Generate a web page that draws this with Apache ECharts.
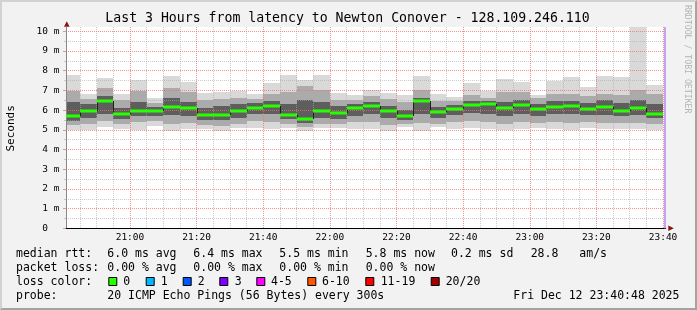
<!DOCTYPE html>
<html><head><meta charset="utf-8">
<script src="https://cdn.jsdelivr.net/npm/echarts@6/dist/echarts.min.js"></script>
<style>
html,body{margin:0;padding:0;background:#f2f2f2;overflow:hidden;}
#chart{position:absolute;left:0;top:0;width:697px;height:310px;}
#frame{position:absolute;left:0;top:0;width:697px;height:310px;box-sizing:border-box;border-top:2px solid #d2d2d2;border-left:2px solid #d2d2d2;border-right:2px solid #a4a4a4;border-bottom:2px solid #a4a4a4;pointer-events:none;}
</style></head>
<body>
<div id="frame"></div>
<div id="chart"></div>
<script>
// ---- data ----
const rangeStart = "20:40:48";
const rangeEnd = "23:40:48";
const nowTime = "23:40:30";
const slotTimes = ["20:40","20:45","20:50","20:55","21:00","21:05","21:10","21:15","21:20","21:25","21:30","21:35",
  "21:40","21:45","21:50","21:55","22:00","22:05","22:10","22:15","22:20","22:25","22:30","22:35",
  "22:40","22:45","22:50","22:55","23:00","23:05","23:10","23:15","23:20","23:25","23:30","23:35"];
const medRtt = [5.69,5.94,6.45,5.78,5.97,5.93,6.18,6.09,5.74,5.77,5.97,6.09,6.19,5.77,5.55,5.97,5.84,6.09,
  6.19,5.94,5.69,6.45,5.89,6.06,6.24,6.30,6.09,6.28,6.04,6.14,6.22,6.04,6.14,5.94,6.09,5.82];
const maxRtt = [7.80,6.84,7.63,6.82,7.55,6.62,7.75,7.45,6.85,6.90,6.95,6.82,7.40,7.80,7.55,7.78,6.87,6.75,
  7.03,6.87,6.75,7.72,6.82,6.67,7.38,6.96,7.60,7.41,6.76,7.46,7.66,7.15,7.71,7.68,10.50,7.29];
const upperMid = [6.95,6.55,7.10,6.50,6.95,6.35,7.10,6.90,6.50,6.55,6.60,6.55,6.80,6.90,7.20,7.00,6.50,6.50,
  6.70,6.55,6.40,7.00,6.45,6.45,6.75,6.60,6.90,6.90,6.60,6.80,6.80,6.70,6.80,6.75,7.00,6.80];
const upperCore = [6.40,6.30,6.70,6.10,6.40,6.15,6.60,6.40,6.10,6.20,6.30,6.35,6.45,6.30,6.50,6.40,6.20,6.30,
  6.40,6.20,6.00,6.60,6.15,6.25,6.45,6.45,6.40,6.50,6.30,6.45,6.45,6.35,6.50,6.35,6.50,6.30];
const lowerCore = [5.45,5.60,5.80,5.55,5.70,5.70,5.75,5.70,5.50,5.50,5.60,5.80,5.80,5.55,5.35,5.60,5.55,5.70,
  5.80,5.60,5.50,5.80,5.60,5.75,5.85,5.80,5.70,5.80,5.70,5.80,5.80,5.75,5.75,5.70,5.75,5.60];
const lowerMid = [5.25,5.30,5.45,5.30,5.40,5.45,5.30,5.35,5.25,5.20,5.30,5.45,5.40,5.30,5.15,5.30,5.30,5.40,
  5.40,5.25,5.30,5.35,5.30,5.40,5.45,5.40,5.30,5.40,5.35,5.40,5.35,5.40,5.35,5.35,5.35,5.30];
const minRtt = [5.00,4.98,5.15,5.05,5.00,5.20,4.95,5.05,5.05,4.95,5.10,5.08,5.05,5.10,4.95,5.08,5.10,5.05,
  5.05,4.95,5.15,4.95,5.15,5.05,5.08,5.02,4.98,5.03,5.08,5.03,5.00,5.08,5.03,5.05,5.03,5.00];
const xMajorLabels = ["21:00","21:20","21:40","22:00","22:20","22:40","23:00","23:20","23:40"];
const yMajorTicks = [0,1,2,3,4,5,6,7,8,9,10];
const yMinorTicks = [0.5,1.5,2.5,3.5,4.5,5.5,6.5,7.5,8.5,9.5];
const yTop = 10.22;
const slotMinutes = 5;

const titleText = "Last 3 Hours from latency to Newton Conover - 128.109.246.110";
const legendRows = [
  {y:254, items:[[16,"median rtt:"],[107.3,"6.0 ms avg"],[193.3,"6.4 ms max"],[279.3,"5.5 ms min"],[365.7,"5.8 ms now"],[451,"0.2 ms sd"],[530.7,"28.8"],[579.3,"am/s"]]},
  {y:268.3, items:[[16,"packet loss:"],[107.3,"0.00 % avg"],[193.3,"0.00 % max"],[279.3,"0.00 % min"],[365.7,"0.00 % now"]]},
  {y:281.7, items:[[16,"loss color:"]]},
  {y:296, items:[[16,"probe:"],[107.3,"20 ICMP Echo Pings (56 Bytes) every 300s"],[513.3,"Fri Dec 12 23:40:48 2025"]]}
];
const lossLabels = ["0","1","2","3","4-5","6-10","11-19","20/20"];
const lossColors = ["#26ff00","#00b8ff","#0059ff","#7e00ff","#ff00ff","#ff5500","#ff0000","#a10000"];
const lossBoxX = [108.3,145.7,182.7,219.3,256.3,307.3,365.3,430.7];
const lossTextX = [123.3,160.7,197.7,234.7,271,322,380.7,445.7];

// ---- build ----
const toMin = s => { const p = s.split(':').map(Number); return (p[0]-20)*60 + p[1] + (p[2]||0)/60; };
const xMin = toMin(rangeStart), xMax = toMin(rangeEnd);
const xMajor = xMajorLabels.map(toMin);
const xMinor = slotTimes.map(toMin).filter(v => v > xMin && xMajor.indexOf(v) < 0);
const fmtTime = v => { const h = 20 + Math.floor(v/60), m = Math.round(v - (h-20)*60); return h + ':' + (m<10?'0':'') + m; };

const rows = slotTimes.map((t,i) => [toMin(t), toMin(t)+slotMinutes, minRtt[i], maxRtt[i], lowerMid[i], upperMid[i],
  lowerCore[i], upperCore[i], medRtt[i], i>0 ? medRtt[i-1] : medRtt[i]]);

const MONO = "DejaVu Sans Mono";
const majorColor = 'rgba(240,110,110,0.75)';
const minorColor = 'rgba(170,170,170,0.6)';

const graphics = [];
graphics.push({type:'text', x:347.5, y:19, style:{text:titleText, font:'13.2px "'+MONO+'"', fill:'#000', align:'center', verticalAlign:'middle'}});
graphics.push({type:'text', x:10.7, y:128.4, rotation:Math.PI/2, style:{text:'Seconds', font:'11px "'+MONO+'"', fill:'#000', align:'center', verticalAlign:'middle'}});
graphics.push({type:'text', x:687.3, y:5, rotation:-Math.PI/2, style:{text:'RRDTOOL / TOBI OETIKER', font:'8.2px "'+MONO+'"', fill:'#b4b4b4', align:'left', verticalAlign:'middle'}});
legendRows.forEach(r => r.items.forEach(it => graphics.push({type:'text', x:it[0], y:r.y, style:{text:it[1], font:'11.5px "'+MONO+'"', fill:'#000', align:'left', verticalAlign:'middle'}})));
lossLabels.forEach((l,i) => {
  graphics.push({type:'rect', shape:{x:lossBoxX[i]+0.5, y:277.5, width:8, height:8}, style:{fill:lossColors[i], stroke:'#000', lineWidth:1}});
  graphics.push({type:'text', x:lossTextX[i], y:281.7, style:{text:l, font:'11.5px "'+MONO+'"', fill:'#000', align:'left', verticalAlign:'middle'}});
});
// axis arrows
graphics.push({type:'polygon', shape:{points:[[66.8,21.3],[64,26.8],[69.6,26.8]]}, style:{fill:'#8b1010'}});
graphics.push({type:'polygon', shape:{points:[[668.3,225.5],[673.8,228.3],[668.3,231.1]]}, style:{fill:'#8b1010'}});

const chart = echarts.init(document.getElementById('chart'), null, {renderer:'canvas'});
chart.setOption({
  animation:false,
  backgroundColor:'transparent',
  grid:{left:66, right:31.3, top:27, bottom:81.7, outerBoundsMode:'none', containLabel:false, show:true, backgroundColor:'#ffffff', borderWidth:0},
  xAxis:[
    {type:'value', min:xMin, max:xMax, position:'bottom', z:3,
     axisLine:{show:true, lineStyle:{color:'#000', width:1}},
     axisTick:{show:true, length:1, customValues:xMajor, lineStyle:{color:'rgba(0,0,0,0)'}},
     axisLabel:{show:true, customValues:xMajor, formatter:fmtTime, margin:4, fontFamily:MONO, fontSize:9.5, color:'#000'},
     splitLine:{show:true, lineStyle:{color:majorColor, type:[1,1], width:1}}},
    {type:'value', min:xMin, max:xMax, position:'top', z:2,
     axisLine:{show:false}, axisLabel:{show:false},
     axisTick:{show:true, length:1, customValues:xMinor, lineStyle:{color:'rgba(0,0,0,0)'}},
     splitLine:{show:true, lineStyle:{color:minorColor, type:[1,1], width:1}}}
  ],
  yAxis:[
    {type:'value', min:0, max:yTop, position:'left', z:3,
     axisLine:{show:true, lineStyle:{color:'#888', width:1}},
     axisTick:{show:true, length:3, customValues:yMajorTicks, lineStyle:{color:majorColor}},
     axisLabel:{show:true, customValues:yMajorTicks, formatter:v => v===0 ? '0  ' : v + ' m', margin:6.5, fontFamily:MONO, fontSize:9.5, color:'#000'},
     splitLine:{show:true, lineStyle:{color:majorColor, type:[1,1], width:1}}},
    {type:'value', min:0, max:yTop, position:'left', z:2,
     axisLine:{show:false}, axisLabel:{show:false},
     axisTick:{show:true, length:2, customValues:yMinorTicks, lineStyle:{color:minorColor}},
     splitLine:{show:true, lineStyle:{color:minorColor, type:[1,1], width:1}}}
  ],
  series:[
    {type:'custom', name:'smoke', xAxisIndex:0, yAxisIndex:0, clip:true, z:1,
     encode:{x:[0,1], y:[2,3]},
     data:rows,
     renderItem:function(params, api){
       const bands = [[2,3,'#d9d9d9'],[4,5,'#ababab'],[6,7,'#5e5e5e']];
       return {type:'group', children:bands.map(b => {
         const p0 = api.coord([api.value(0), api.value(b[1])]);
         const p1 = api.coord([api.value(1), api.value(b[0])]);
         const x0 = Math.round(p0[0]), x1 = Math.round(p1[0]);
         const y0 = Math.round(p0[1]), y1 = Math.round(p1[1]);
         return {type:'rect', shape:{x:x0, y:y0, width:x1-x0, height:y1-y0}, style:{fill:b[2]}};
       })};
     },
     markLine:{silent:true, symbol:['none','none'], label:{show:false},
       lineStyle:{color:'#c8a0f4', width:2, type:'solid'},
       data:[{xAxis:toMin(nowTime)}]}
    },
    {type:'custom', name:'median', xAxisIndex:0, yAxisIndex:0, clip:true, z:5,
     encode:{x:[0,1], y:[8]},
     data:rows,
     renderItem:function(params, api){
       const p0 = api.coord([api.value(0), api.value(8)]);
       const p1 = api.coord([api.value(1), api.value(8)]);
       const pp = api.coord([api.value(0), api.value(9)]);
       const x0 = Math.round(p0[0]), x1 = Math.round(p1[0]);
       const y = Math.round(p0[1]), yp = Math.round(pp[1]);
       return {type:'group', children:[
         {type:'line', shape:{x1:x0+0.5, y1:yp, x2:x0+0.5, y2:y}, style:{stroke:'#202020', lineWidth:1}},
         {type:'rect', shape:{x:x0, y:y-1.5, width:x1-x0, height:3}, style:{fill:'#26ff00'}}
       ]};
     }
    }
  ],
  graphic:graphics
});
</script>
</body></html>
